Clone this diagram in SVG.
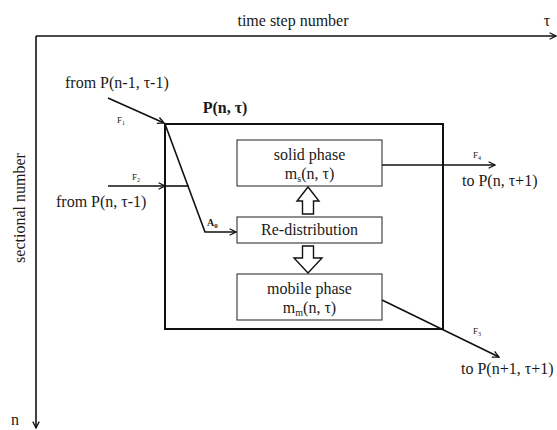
<svg xmlns="http://www.w3.org/2000/svg" width="557" height="430" viewBox="0 0 557 430" font-family="'Liberation Serif', 'DejaVu Serif', serif">
<style>
text{font-family:"Liberation Serif","DejaVu Serif",serif;fill:#1a1a1a}
.t{font-size:16px}
.s{font-size:9px}
.ln{stroke:#111;stroke-width:1.6;fill:none}
.box{fill:#fff;stroke:#333;stroke-width:1.1}
.outer{fill:none;stroke:#111;stroke-width:2}
.hollow{fill:#fff;stroke:#111;stroke-width:1.4;stroke-linejoin:miter}
</style>
<defs>
<marker id="ah" viewBox="0 0 10 10" refX="9" refY="5" markerWidth="8" markerHeight="8" markerUnits="userSpaceOnUse" orient="auto">
<path d="M1,1 L9,5 L1,9" fill="none" stroke="#111" stroke-width="1.6"/>
</marker>
</defs>
<rect width="557" height="430" fill="#fff"/>
<g id="axes">
<path class="ln" d="M36,36 H556" marker-end="url(#ah)"/>
<path class="ln" d="M36,36 V428" marker-end="url(#ah)"/>
<text class="t" x="293" y="26" text-anchor="middle">time step number</text>
<text class="t" x="547" y="26" text-anchor="middle">τ</text>
<text class="t" transform="translate(25,208) rotate(-90)" text-anchor="middle">sectional number</text>
<text class="t" x="15" y="425" text-anchor="middle">n</text>
</g>
<g id="cell">
<rect class="outer" x="165" y="124" width="278" height="205"/>
<text x="225" y="113" text-anchor="middle" style="font-size:16px;font-weight:bold">P(n, τ)</text>
</g>
<g id="solid">
<rect class="box" x="237" y="140" width="145" height="46"/>
<text class="t" x="309.5" y="160" text-anchor="middle">solid phase</text>
<text class="t" x="309.5" y="179" text-anchor="middle">m<tspan font-size="10" dy="3">s</tspan><tspan dy="-3">(n, τ)</tspan></text>
</g>
<g id="redistribution">
<rect class="box" x="237" y="217" width="145" height="26"/>
<text class="t" x="309.5" y="235" text-anchor="middle">Re-distribution</text>
</g>
<g id="mobile">
<rect class="box" x="237" y="274" width="145" height="46"/>
<text class="t" x="309.5" y="294" text-anchor="middle">mobile phase</text>
<text class="t" x="309.5" y="313" text-anchor="middle">m<tspan font-size="10" dy="3">m</tspan><tspan dy="-3">(n, τ)</tspan></text>
</g>
<g id="sources">
<text class="t" x="65" y="88">from P(n-1, τ-1)</text>
<text class="t" x="56" y="207">from P(n, τ-1)</text>
<text class="t" x="462" y="186">to P(n, τ+1)</text>
<text class="t" x="461" y="374">to P(n+1, τ+1)</text>
</g>
<g id="connectors">
<path class="ln" d="M108,98 L164,123" marker-end="url(#ah)"/>
<path class="ln" d="M108,186 H165" marker-end="url(#ah)"/>
<path class="ln" d="M165,186 H189"/>
<path class="ln" d="M165,124 L205,232 H236" marker-end="url(#ah)"/>
<path class="ln" d="M382,165 H495" marker-end="url(#ah)"/>
<path class="ln" d="M382,300 L499,357" marker-end="url(#ah)"/>
<path class="hollow" d="M302.5,214 V201 H297 L308,187 L319,201 H313.5 V214 Z"/>
<path class="hollow" d="M302.5,246 V258 H294 L308,273 L322,258 H313.5 V246 Z"/>
<text class="s" x="117" y="123">F<tspan font-size="6" dy="2">1</tspan></text>
<text class="s" x="132" y="180">F<tspan font-size="6" dy="2">2</tspan></text>
<text class="s" x="473" y="158">F<tspan font-size="6" dy="2">4</tspan></text>
<text class="s" x="473" y="334">F<tspan font-size="6" dy="2">3</tspan></text>
<text x="207" y="226" style="font-size:10px;font-weight:bold">A<tspan font-size="7" dy="2">0</tspan></text>
</g>
</svg>
